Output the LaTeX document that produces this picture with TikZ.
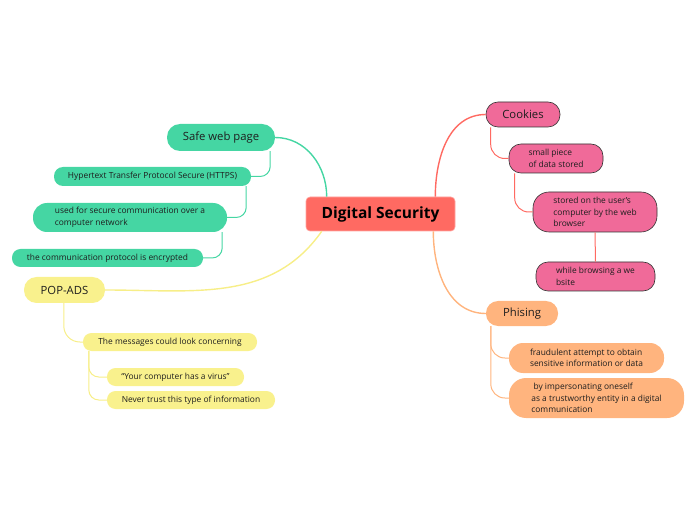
\documentclass[tikz,border=0pt]{standalone}
\usepackage{fontspec}
\setmainfont{Open Sans}
\definecolor{txt}{HTML}{1E1E1E}
\definecolor{cmain}{HTML}{FF6A62}
\definecolor{cpink}{HTML}{F06A99}
\definecolor{cpinkline}{HTML}{FF6A62}
\definecolor{corange}{HTML}{FFB47E}
\definecolor{cgreen}{HTML}{45D6A3}
\definecolor{cyellow}{HTML}{F9F18D}
\definecolor{cyellowline}{HTML}{F7EE88}
\tikzset{
  base/.style={inner sep=0pt, text=txt, font=\fontsize{8.4pt}{11.5pt}\selectfont},
  topic/.style={inner sep=0pt, text=txt, font=\fontsize{11.3pt}{13pt}\selectfont, align=center},
  pinkbox/.style={fill=cpink, draw=black!80, line width=0.6pt},
  orangebox/.style={fill=corange},
  greenbox/.style={fill=cgreen},
  yellowbox/.style={fill=cyellow},
  mainline/.style={line width=1.4pt},
  subline/.style={line width=1pt, rounded corners=10pt},
}
\begin{document}
\begin{tikzpicture}[x=1pt,y=1pt]
\useasboundingbox (0,0) rectangle (696,520);
% central
\node[fill=cmain, draw=cmain!60!white, line width=0.6pt, rounded corners=4pt, minimum width=149pt, minimum height=34pt, inner sep=0pt, text=black, font=\fontsize{15.5pt}{17pt}\selectfont\bfseries] (ds) at (380.5,306) {Digital Security};

% right: cookies
\node[topic, pinkbox, minimum width=74pt, minimum height=25pt, rounded corners=12pt] (cookies) at (523,405.5) {Cookies};
\node[base, pinkbox, rounded corners=12pt, minimum width=94pt, minimum height=29pt, align=left] (small) at (556,361.5) {small piece\\of data stored};
\node[base, pinkbox, rounded corners=16pt, minimum width=124pt, minimum height=40pt, align=left] (stored) at (595,308) {stored on the user's\\computer by the web\\browser};
\node[base, pinkbox, rounded corners=12pt, minimum width=119pt, minimum height=29pt, align=left] (while) at (595.5,243.5) {while browsing a we\\bsite};

% right: phising
\node[topic, orangebox, minimum width=72pt, minimum height=25pt, rounded corners=12pt] (phis) at (522,206.5) {Phising};
\node[base, orangebox, rounded corners=14pt, minimum width=155pt, minimum height=30pt, align=left] (fraud) at (586.5,162) {fraudulent attempt to obtain\\sensitive information or data};
\node[base, orangebox, rounded corners=17pt, minimum width=175pt, minimum height=40pt, align=left] (imp) at (596.5,122) {\ by impersonating oneself\\as a trustworthy entity in a  digital\\communication};

% left: safe web page
\node[topic, greenbox, minimum width=108pt, minimum height=27pt, rounded corners=13pt] (safe) at (221,382.5) {Safe web page};
\node[base, greenbox, minimum width=197pt, minimum height=19pt, rounded corners=9pt, align=center] (https) at (152.5,343.5) {Hypertext Transfer Protocol Secure (HTTPS)};
\node[base, greenbox, rounded corners=14pt, minimum width=194pt, minimum height=29pt, align=left] (used) at (130,302.5) {used for secure communication over a\\computer network};
\node[base, greenbox, minimum width=191pt, minimum height=18pt, rounded corners=8.5pt, align=center] (proto) at (107.5,262) {the communication protocol is encrypted};

% left: pop-ads
\node[topic, yellowbox, minimum width=81pt, minimum height=26pt, rounded corners=12.5pt] (pop) at (64.5,230) {POP-ADS};
\node[base, yellowbox, minimum width=174pt, minimum height=18pt, rounded corners=8.5pt, align=center] (msgs) at (170,178) {The messages could look concerning};
\node[base, yellowbox, minimum width=137pt, minimum height=18pt, rounded corners=8.5pt, align=center] (virus) at (175.5,143) {“Your computer has a virus”};
\node[base, yellowbox, minimum width=168pt, minimum height=18pt, rounded corners=8.5pt, align=center] (never) at (191,120) {Never trust this type of information};

% main connectors
\draw[mainline, cgreen] ([xshift=21pt]ds.north west) to[out=90,in=0] (safe.east);
\draw[mainline, cyellowline] ([xshift=16pt]ds.south west) to[out=235,in=0] (pop.east);
\draw[mainline, cpinkline] ([xshift=-20pt]ds.north east) to[out=90,in=180] (cookies.west);
\draw[mainline, corange] ([xshift=-22pt]ds.south east) to[out=-90,in=180] (phis.west);

% sub connectors
\draw[subline, cgreen] ([xshift=-5pt]safe.south east) |- (https.east);
\draw[subline, cgreen] ([xshift=-5pt]https.south east) |- (used.east);
\draw[subline, cgreen] ([xshift=-5pt]used.south east) |- (proto.east);
\draw[subline, cyellowline, rounded corners=16pt] ([xshift=40pt]pop.south west) |- (msgs.west);
\draw[subline, cyellowline] ([xshift=6pt]msgs.south west) |- (virus.west);
\draw[subline, cyellowline] ([xshift=6pt]msgs.south west) |- (never.west);
\draw[subline, cpinkline, rounded corners=14pt] ([xshift=5pt]cookies.south west) |- (small.west);
\draw[subline, cpinkline, rounded corners=14pt] ([xshift=6pt]small.south west) |- (stored.west);
\draw[subline, cpinkline] (stored.south) -- (while.north);
\draw[subline, corange, rounded corners=14pt] ([xshift=5pt]phis.south west) |- (fraud.west);
\draw[subline, corange, rounded corners=14pt] ([xshift=5pt]phis.south west) |- (imp.west);
\end{tikzpicture}
\end{document}
